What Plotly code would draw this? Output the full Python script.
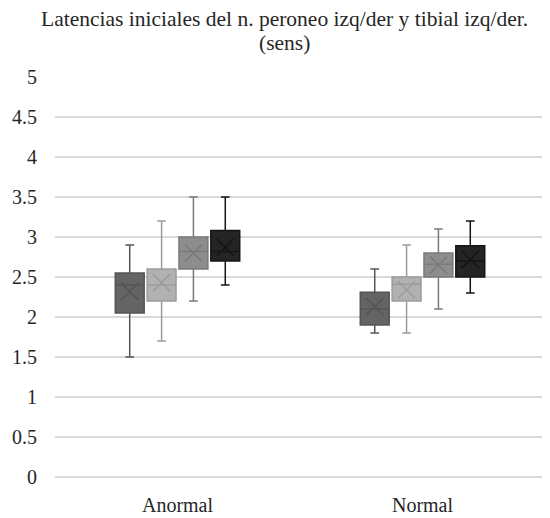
import plotly.graph_objects as go

categories = ["Anormal", "Normal"]
series_names = ["Peroneo izq", "Peroneo der", "Tibial izq", "Tibial der"]
title_lines = ["Latencias iniciales del n. peroneo izq/der y tibial izq/der.", "(sens)"]

# per series: values for [Anormal, Normal]
lower = [[1.5, 1.8], [1.7, 1.8], [2.2, 2.1], [2.4, 2.3]]
q1 = [[2.05, 1.9], [2.2, 2.2], [2.6, 2.5], [2.7, 2.5]]
median = [[2.4, 2.1], [2.4, 2.41], [2.82, 2.66], [2.82, 2.7]]
q3 = [[2.55, 2.31], [2.6, 2.5], [3.0, 2.8], [3.08, 2.89]]
upper = [[2.9, 2.6], [3.2, 2.9], [3.5, 3.1], [3.5, 3.2]]
mean = [[2.32, 2.13], [2.43, 2.34], [2.8, 2.65], [2.87, 2.72]]

fills = ["#646464", "#b1b1b1", "#8d8d8d", "#242424"]
lines = ["#555555", "#9c9c9c", "#7a7a7a", "#151515"]

y_ticks = [0, 0.5, 1, 1.5, 2, 2.5, 3, 3.5, 4, 4.5, 5]

spacing = 0.13
width = 0.118

fig = go.Figure()
n = len(series_names)
for i in range(n):
    xs = [c + (i - (n - 1) / 2) * spacing for c in range(len(categories))]
    fig.add_trace(go.Box(
        x=xs, q1=q1[i], median=median[i], q3=q3[i],
        lowerfence=lower[i], upperfence=upper[i],
        width=width, whiskerwidth=0.3,
        fillcolor=fills[i], line=dict(color=lines[i], width=1.5),
        name=series_names[i], showlegend=False, boxpoints=False,
    ))
    fig.add_trace(go.Scatter(
        x=xs, y=mean[i], mode="markers",
        marker=dict(symbol="x-thin-open", size=17, color=lines[i],
                    line=dict(color=lines[i], width=1.5)),
        showlegend=False, hoverinfo="skip",
    ))

serif = "Liberation Serif"
txt = "#262626"
W, H = 542, 510
ML, MR, MT, MB = 47, 5, 69, 41
plot_h = H - MT - MB
plot_w = W - ML - MR

# title as two lines with tighter line spacing
title_center_x = (276 - ML) / plot_w
line_centers = [10.6, 34.6]
for t, yc in zip(title_lines, line_centers):
    fig.add_annotation(
        text=t, xref="paper", yref="paper", x=title_center_x,
        y=1 + (MT - yc) / plot_h, xanchor="center", yanchor="middle",
        showarrow=False, font=dict(family=serif, size=21.5, color=txt),
    )

fig.update_layout(
    width=W, height=H,
    margin=dict(l=ML, r=MR, t=MT, b=MB),
    paper_bgcolor="white", plot_bgcolor="white",
    font=dict(family=serif, size=20, color=txt),
)
fig.update_xaxes(
    range=[-0.5, 1.5], tickvals=list(range(len(categories))), ticktext=categories,
    showgrid=False, zeroline=False, showline=False, automargin=False,
    ticks="outside", ticklen=10, tickcolor="rgba(0,0,0,0)",
    tickfont=dict(family=serif, size=20, color=txt),
)
fig.update_yaxes(
    range=[0, 5], tickvals=y_ticks, ticktext=[f"{v:g}" for v in y_ticks],
    showgrid=True, gridcolor="#d9d9d9", gridwidth=1.5,
    zeroline=True, zerolinecolor="#d9d9d9", zerolinewidth=1.5,
    showline=False, automargin=False,
    ticks="outside", ticklen=13, tickcolor="rgba(0,0,0,0)",
    tickfont=dict(family=serif, size=20, color=txt),
)

fig.write_html("out.html")
